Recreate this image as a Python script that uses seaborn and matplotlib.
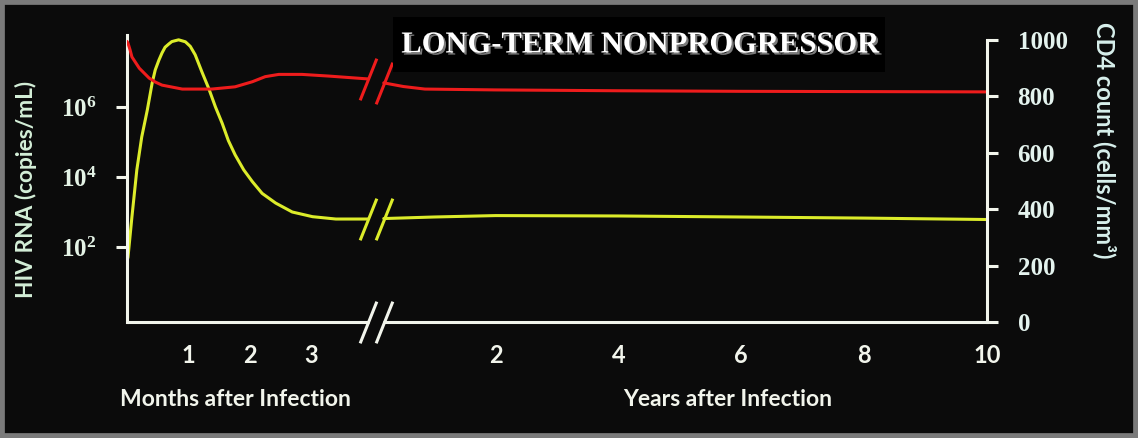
import numpy as np
import pandas as pd
import matplotlib
matplotlib.use("Agg")
import matplotlib.pyplot as plt
import matplotlib.patheffects as pe
from matplotlib.patches import Rectangle
from matplotlib.path import Path
from matplotlib.ticker import NullLocator
import seaborn as sns

# ------------------------------------------------------------
# Data
# ------------------------------------------------------------
# HIV RNA (copies/mL), first months after infection
rna_months = [0, 0.016, 0.08, 0.16, 0.24, 0.33, 0.41, 0.46, 0.52, 0.57, 0.62, 0.68, 0.73,
              0.84, 0.95, 1.03, 1.11, 1.22, 1.33, 1.44, 1.55, 1.65, 1.76, 1.9, 2.04,
              2.2, 2.42, 2.69, 3.02, 3.4, 3.92]
rna_months_val = [40, 51, 720, 1.6e4, 1.4e5, 8.1e5, 4.9e6, 1.15e7, 2.2e7, 3.5e7, 5.1e7, 6.3e7, 7.4e7,
                  8.3e7, 7.3e7, 5.4e7, 3.1e7, 1.0e7, 3.4e6, 1.0e6, 3.4e5, 1.1e5, 4.3e4, 1.6e4, 7.4e3,
                  3.4e3, 1.8e3, 1.0e3, 735, 630, 630]
# HIV RNA, years after infection
rna_years = [0.18, 1, 2, 4, 6, 8, 10]
rna_years_val = [650, 720, 790, 770, 720, 670, 610]

# CD4 count (cells/mm3), months
cd4_months = [0, 0.016, 0.05, 0.08, 0.2, 0.36, 0.46, 0.57, 0.9, 1.38, 1.76, 2.04,
              2.25, 2.47, 2.85, 3.29, 3.92]
cd4_months_val = [995, 989, 965, 940, 900, 865, 851, 840, 826, 826, 834, 852,
                  870, 878, 878, 872, 862]
# CD4 count, years
cd4_years = [0.18, 0.5, 0.85, 2, 4, 6, 8, 10]
cd4_years_val = [848, 835, 826, 823, 820, 818, 817, 816]

month_ticks = [1, 2, 3]
year_ticks = [1, 2, 3, 4, 5, 6, 7, 8, 9, 10]
year_labels = ["", "2", "", "4", "", "6", "", "8", "", "10"]
rna_ticks = [1e2, 1e4, 1e6]
cd4_ticks = [0, 200, 400, 600, 800, 1000]

BREAK = 4.0  # axis position where years start (year 0)

def yr(v):
    return BREAK + np.asarray(v, dtype=float)

# ------------------------------------------------------------
sns.set_style("dark")
plt.rcParams["font.family"] = ["Lato", "DejaVu Sans"]
plt.rcParams["mathtext.fontset"] = "custom"
plt.rcParams["mathtext.rm"] = "Liberation Serif:bold"
plt.rcParams["mathtext.bf"] = "Liberation Serif:bold"
plt.rcParams["mathtext.it"] = "Liberation Serif:bold:italic"

BG = "#0b0b0b"
FG = "#f2f5ec"
RED = "#ee1c1c"
YEL = "#dcec2a"
LW = 2.2

W, H = 1138, 438
fig = plt.figure(figsize=(W / 100, H / 100), dpi=100)
fig.patch.set_facecolor(BG)

ax = fig.add_axes([127 / W, 1 - 322 / H, (987 - 127) / W, (322 - 35) / H])
ax.set_facecolor(BG)
ax2 = ax.twinx()

df_rna_m = pd.DataFrame({"x": rna_months, "y": rna_months_val})
df_rna_y = pd.DataFrame({"x": yr(rna_years), "y": rna_years_val})
df_cd4_m = pd.DataFrame({"x": cd4_months, "y": cd4_months_val})
df_cd4_y = pd.DataFrame({"x": yr(cd4_years), "y": cd4_years_val})

for d in (df_rna_m, df_rna_y):
    sns.lineplot(data=d, x="x", y="y", ax=ax, color=YEL, linewidth=LW,
                 estimator=None, sort=False, solid_joinstyle="round")
for d in (df_cd4_m, df_cd4_y):
    sns.lineplot(data=d, x="x", y="y", ax=ax2, color=RED, linewidth=LW,
                 estimator=None, sort=False, solid_joinstyle="round")

ax.set_yscale("log")
ax.set_ylim(0.72, 1.14e8)
ax.set_xlim(0, BREAK + 10)
ax2.set_ylim(0, 1000 * 287 / 282)
ax2.set_xlim(0, BREAK + 10)

# break marks ("//")
slash = Path([(-0.2, -0.5), (0.2, 0.5)])
def breaks(axis, x0, x1, y0, y1, color, transform=None):
    kw = dict(marker=slash, markersize=30, markeredgewidth=LW, markerfacecolor="none",
              markeredgecolor=color, linestyle="none", clip_on=False)
    if transform is not None:
        kw["transform"] = transform
    axis.plot([x0, x1], [y0, y1], **kw)

breaks(ax, rna_months[-1], yr(rna_years)[0], rna_months_val[-1], rna_years_val[0], YEL)
breaks(ax2, cd4_months[-1], yr(cd4_years)[0], cd4_months_val[-1], cd4_years_val[0], RED)
breaks(ax, rna_months[-1], yr(rna_years)[0], 0, 0, FG, ax.get_xaxis_transform())

# x axis drawn in two pieces
xt = ax.get_xaxis_transform()
ax.plot([0, rna_months[-1]], [0, 0], color=FG, lw=LW, transform=xt, clip_on=False)
ax.plot([yr(rna_years)[0], BREAK + 10], [0, 0], color=FG, lw=LW, transform=xt, clip_on=False)

for s in ["top", "right", "bottom"]:
    ax.spines[s].set_visible(False)
ax.spines["left"].set_color(FG)
ax.spines["left"].set_linewidth(LW)
for s in ["top", "left", "bottom"]:
    ax2.spines[s].set_visible(False)
ax2.spines["right"].set_color(FG)
ax2.spines["right"].set_linewidth(LW)
ax2.spines["right"].set_bounds(0, 1000)

xticks = [0] + month_ticks + list(yr(year_ticks))
xlabels = [""] + [str(m) for m in month_ticks] + year_labels
ax.set_xticks(xticks)
ax.set_xticklabels(xlabels)
ax.tick_params(axis="x", direction="out", length=8, width=LW, color=FG,
               labelcolor=FG, labelsize=17, pad=8)
for t in ax.get_xticklabels():
    t.set_fontweight("bold")

ax.set_yticks(rna_ticks)
ax.set_yticklabels([r"$\mathrm{10^{%d}}$" % int(np.log10(v)) for v in rna_ticks])
ax.yaxis.set_minor_locator(NullLocator())
ax.tick_params(axis="y", direction="out", length=8, width=LW, color=FG,
               labelcolor="#e4f3e6", labelsize=18, pad=14)

ax2.set_yticks(cd4_ticks)
ax2.set_yticklabels([str(v) for v in cd4_ticks])
ax2.tick_params(axis="y", direction="out", length=8, width=LW, color=FG,
                labelcolor="#e4f3ee", labelsize=18, pad=14)
for t in ax2.get_yticklabels():
    t.set_fontfamily("Liberation Serif")
    t.set_fontweight("bold")

ax.set_xlabel("")
ax.set_ylabel("")
ax2.set_ylabel("")
ax.grid(False)
ax2.grid(False)

# axis titles
fig.text(235 / W, 1 - 399 / H, "Months after Infection", ha="center", va="center",
         fontsize=16.5, fontweight="bold", color=FG)
fig.text(728 / W, 1 - 399 / H, "Years after Infection", ha="center", va="center",
         fontsize=16.5, fontweight="bold", color=FG)
fig.text(26 / W, 1 - 189 / H, "HIV RNA (copies/mL)", ha="center", va="center",
         rotation=90, fontsize=16.3, fontweight="bold", color="#d4efd8")
fig.text(1105 / W, 1 - 140 / H, "CD4 count (cells/mm³)", ha="center", va="center",
         rotation=270, fontsize=17, fontweight="bold", color="#d8f0ec")

# title box
fig.add_artist(Rectangle((393 / W, 1 - 72 / H), 492 / W, 55 / H,
                         transform=fig.transFigure, facecolor="black", edgecolor="none"))
fig.text(640 / W, 1 - 45 / H, "LONG-TERM NONPROGRESSOR", ha="center", va="center",
         fontsize=22, fontweight="bold", family="Liberation Serif", color="white",
         path_effects=[pe.withSimplePatchShadow(offset=(1.5, -1.5),
                                                shadow_rgbFace="#888888", alpha=0.9)])

# grey frame round the picture
fig.add_artist(Rectangle((0, 0), 1, 1, transform=fig.transFigure, facecolor="none",
                         edgecolor="#7b7b7b", linewidth=7))

fig.savefig("out.png", dpi=100, facecolor=BG)
